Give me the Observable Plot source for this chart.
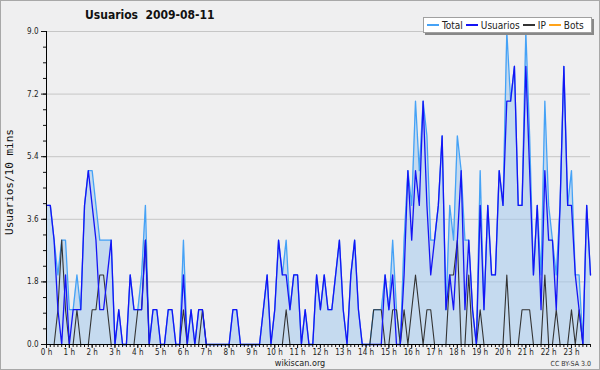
<!DOCTYPE html>
<html><head><meta charset="utf-8">
<script src="https://cdn.jsdelivr.net/npm/d3@7"></script>
<script src="https://cdn.jsdelivr.net/npm/@observablehq/plot@0.6"></script>
<style>
body{margin:0;background:#fff;}
#wrap{position:relative;width:600px;height:370px;background:#efeff0;overflow:hidden;font-family:"DejaVu Sans",sans-serif;}
#wrap svg{position:absolute;left:0;top:0;}
#border{position:absolute;left:0;top:0;width:598px;height:368px;border:1px solid #a8a8a8;pointer-events:none;}
#title{position:absolute;left:85px;top:8px;font:bold 12px "DejaVu Sans Condensed","DejaVu Sans";white-space:pre;color:#111;}
#legend{position:absolute;left:423px;top:17px;width:164px;height:14px;background:#fff;border:1px solid #a0a0a0;box-shadow:2px 2px 0 #888;font:10px "DejaVu Sans Condensed","DejaVu Sans";color:#222;display:flex;align-items:center;padding-left:3px;}
#legend .it{display:flex;align-items:center;margin-right:3px;white-space:nowrap;}
#legend .sw{display:inline-block;width:12px;height:2px;margin-right:3px;}
#ylabel{position:absolute;left:9px;top:182px;transform:translate(-50%,-50%) rotate(-90deg);font:11px "DejaVu Sans Mono",monospace;white-space:nowrap;color:#111;}
#foot{position:absolute;left:0;width:600px;top:358px;line-height:9px;text-align:center;font:9px "DejaVu Sans Condensed","DejaVu Sans";color:#222;}
#cc{position:absolute;right:9px;top:360px;line-height:7px;font:7px "DejaVu Sans Condensed","DejaVu Sans";color:#333;}
</style></head>
<body>
<div id="wrap">
  <div id="chart"></div>
  <div id="title"></div>
  <div id="ylabel"></div>
  <div id="legend"></div>
  <div id="foot"></div>
  <div id="cc"></div>
  <div id="border"></div>
</div>
<script>
const titleText = "Usuarios  2009-08-11";
const yLabel = "Usuarios/10 mins";
const footText = "wikiscan.org";
const licenseText = "CC BY-SA 3.0";
const seriesNames = ["Total", "Usuarios", "IP", "Bots"];
const seriesColors = ["#45a2f6", "#1414f5", "#333333", "#ffa31a"];
const hourTicks = [0,1,2,3,4,5,6,7,8,9,10,11,12,13,14,15,16,17,18,19,20,21,22,23];
const yTicks = [0, 1.8, 3.6, 5.4, 7.2, 9.0];

// values per 10-minute slot, 0h00 .. 23h50
const total = [
  4,4,3,2,3,3,1,1,2,1, 4,5,5,4,3,3,3,3,0,1, 0,0,2,1,1,2,4,0,1,1,
  0,0,1,1,0,0,3,0,1,0, 1,1,0,0,0,0,0,0,0,1, 1,0,0,0,0,0,0,1,2,0,
  1,3,2,3,1,2,2,0,1,0, 0,2,1,2,1,1,2,3,1,0, 2,3,1,0,0,0,1,1,1,2,
  1,3,1,0,3,5,4,7,5,7, 6,3,3,4,6,1,4,3,6,5, 3,3,1,0,5,1,4,2,2,5,
  4,9,7,8,4,4,9,6,2,4, 2,7,4,3,2,4,8,4,5,2, 2,0,4,2];
const usuarios = [
  4,4,3,1,0,2,0,1,1,1, 4,5,4,3,1,1,2,3,0,1, 0,0,2,1,1,1,3,0,1,1,
  0,0,1,1,0,0,2,0,1,0, 1,1,0,0,0,0,0,0,0,1, 1,0,0,0,0,0,0,1,2,0,
  1,3,2,2,1,2,2,0,1,0, 0,2,1,2,1,1,2,3,1,0, 2,3,1,0,0,0,0,0,0,2,
  1,2,0,0,2,5,3,5,4,7, 4,2,3,4,6,1,2,1,3,5, 1,3,1,0,4,1,4,2,2,5,
  4,7,7,8,4,4,8,5,2,4, 1,5,3,3,1,4,8,4,4,2, 1,0,4,2];
const ip = [
  0,0,0,1,3,1,0,0,1,0, 0,0,1,1,2,2,1,0,0,0, 0,0,0,0,1,1,3,0,0,0,
  0,0,0,0,0,0,1,0,0,0, 0,1,0,0,0,0,0,0,0,0, 0,0,0,0,0,0,0,0,0,0,
  0,0,0,1,0,0,0,0,0,0, 0,0,0,0,0,0,0,0,0,0, 0,0,0,0,0,0,1,1,1,0,
  0,1,1,0,1,0,1,2,1,0, 1,1,0,0,0,0,2,2,3,0, 0,2,0,0,1,0,0,0,0,0,
  0,2,0,0,0,1,1,1,0,0, 0,2,0,0,1,0,0,0,1,0, 1,0,0,0];
const bots = [
  0,0,0,0,0,0,0,0,0,0, 0,0,0,0,0,0,0,0,0,0, 0,0,0,0,0,0,0,0,0,0,
  0,0,0,0,0,0,0,0,0,0, 0,0,0,0,0,0,0,0,0,0, 0,0,0,0,0,0,0,0,0,0,
  0,0,0,0,0,0,0,0,0,0, 0,0,0,0,0,0,0,0,0,0, 0,0,0,0,0,0,0,0,0,0,
  0,0,0,0,0,0,0,0,0,0, 0,0,0,0,0,0,0,0,0,0, 0,0,0,0,0,0,0,0,0,0,
  0,0,0,0,0,0,0,0,0,0, 0,0,0,0,0,0,0,0,0,0, 0,0,0,0];

const data = total.map((t, i) => ({h: i / 6, total: t, usuarios: usuarios[i], ip: ip[i], bots: bots[i]}));
const yMinor = d3.range(0, 9.001, 0.45);
const xMinor = d3.range(0, 144).map(i => i / 6);

const chart = Plot.plot({
  width: 600, height: 370,
  marginLeft: 46, marginRight: 10, marginTop: 31, marginBottom: 26,
  style: {background: "transparent", fontFamily: "DejaVu Sans Condensed, DejaVu Sans", fontSize: "8px", color: "#222", overflow: "visible"},
  x: {domain: [0, 143 / 6]},
  y: {domain: [0, 9]},
  marks: [
    Plot.gridY(yTicks, {stroke: "#c6c6c6", strokeOpacity: 1}),
    Plot.areaY(data, {x: "h", y: "total", fill: "#a2c9ef", fillOpacity: 0.55}),
    Plot.lineY(data, {x: "h", y: "bots", stroke: seriesColors[3], strokeWidth: 1.2}),
    Plot.lineY(data, {x: "h", y: "total", stroke: seriesColors[0], strokeWidth: 1.3}),
    Plot.lineY(data, {x: "h", y: "ip", stroke: seriesColors[2], strokeWidth: 1.1}),
    Plot.lineY(data, {x: "h", y: "usuarios", stroke: seriesColors[1], strokeWidth: 1.3}),
    Plot.axisY(yMinor, {tickSize: 3, fill: "none", label: null, stroke: "#111"}),
    Plot.axisY(yTicks, {tickSize: 5, tickPadding: 3, tickFormat: d => d.toFixed(1), label: null, stroke: "#111"}),
    Plot.axisX(xMinor, {tickSize: 3, fill: "none", label: null, stroke: "#111"}),
    Plot.axisX(hourTicks, {tickSize: 4, tickPadding: 1, tickFormat: d => d + " h", label: null, stroke: "#111"}),
    Plot.ruleX([0], {stroke: "#000"}),
    Plot.ruleY([0], {stroke: "#000"})
  ]
});
document.getElementById("chart").appendChild(chart);

document.getElementById("title").textContent = titleText;
document.getElementById("ylabel").textContent = yLabel;
document.getElementById("foot").textContent = footText;
document.getElementById("cc").textContent = licenseText;
const leg = document.getElementById("legend");
seriesNames.forEach((n, k) => {
  const it = document.createElement("span");
  it.className = "it";
  const sw = document.createElement("span");
  sw.className = "sw";
  sw.style.background = seriesColors[k];
  it.appendChild(sw);
  it.appendChild(document.createTextNode(n));
  leg.appendChild(it);
});
</script>
</body></html>
